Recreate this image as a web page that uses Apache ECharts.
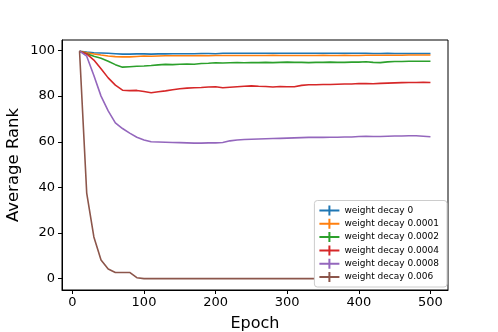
<!DOCTYPE html>
<html>
<head>
<meta charset="utf-8">
<script src="https://cdn.jsdelivr.net/npm/echarts@6/dist/echarts.min.js"></script>
<style>
  html, body { margin: 0; padding: 0; background: #fff; }
  #chart { width: 498px; height: 332px; }
</style>
</head>
<body>
<div id="chart"></div>
<script>
// epochs 10..500 step 10
var epochs = [10, 20, 30, 40, 50, 60, 70, 80, 90, 100,
	110, 120, 130, 140, 150, 160, 170, 180, 190, 200,
	210, 220, 230, 240, 250, 260, 270, 280, 290, 300,
	310, 320, 330, 340, 350, 360, 370, 380, 390, 400,
	410, 420, 430, 440, 450, 460, 470, 480, 490, 500];

var wd0 = [99.7, 99.3, 99.0, 98.9, 98.8, 98.6, 98.4, 98.4, 98.5, 98.5,
	98.4, 98.5, 98.5, 98.6, 98.6, 98.6, 98.6, 98.7, 98.7, 98.6,
	98.8, 98.8, 98.8, 98.8, 98.8, 98.8, 98.8, 98.8, 98.8, 98.8,
	98.8, 98.8, 98.8, 98.8, 98.8, 98.8, 98.8, 98.8, 98.8, 98.8,
	98.8, 98.7, 98.7, 98.8, 98.7, 98.7, 98.7, 98.7, 98.7, 98.7];

var wd0001 = [99.7, 99.0, 98.5, 98.0, 97.6, 97.3, 97.2, 97.2, 97.4, 97.6,
	97.5, 97.6, 97.7, 97.7, 97.7, 97.7, 97.7, 97.8, 97.7, 97.8,
	97.8, 97.8, 97.8, 97.8, 97.8, 97.8, 97.8, 97.9, 97.8, 97.8,
	97.8, 97.8, 97.8, 97.8, 97.9, 97.8, 97.8, 97.9, 97.8, 97.8,
	97.9, 97.9, 97.9, 97.9, 97.9, 97.9, 98.0, 98.0, 98.0, 98.0];

var wd0002 = [99.7, 98.6, 97.5, 96.6, 95.3, 93.8, 92.7, 92.9, 93.1, 93.2,
	93.4, 93.7, 93.9, 93.8, 94.0, 94.1, 94.0, 94.3, 94.4, 94.6,
	94.5, 94.6, 94.7, 94.6, 94.7, 94.7, 94.8, 94.7, 94.8, 94.9,
	94.8, 94.8, 94.7, 94.8, 94.8, 94.9, 94.8, 94.8, 94.9, 94.9,
	95.1, 94.8, 94.7, 95.0, 95.2, 95.2, 95.3, 95.3, 95.3, 95.3];

var wd0004 = [99.7, 98.5, 95.8, 92.0, 88.0, 84.8, 82.6, 82.4, 82.5, 82.0,
	81.5, 81.9, 82.3, 82.8, 83.2, 83.5, 83.7, 83.8, 84.0, 84.1,
	83.7, 83.9, 84.1, 84.3, 84.5, 84.3, 84.2, 84.0, 84.2, 84.1,
	84.1, 84.7, 85.0, 85.0, 85.1, 85.1, 85.2, 85.3, 85.3, 85.5,
	85.5, 85.4, 85.6, 85.7, 85.8, 85.9, 86.0, 86.0, 86.1, 86.0];

var wd0008 = [99.7, 97.5, 89.0, 80.0, 73.5, 68.3, 65.8, 63.8, 62.0, 60.8,
	60.0, 59.9, 59.8, 59.7, 59.6, 59.5, 59.4, 59.4, 59.5, 59.5,
	59.7, 60.4, 60.8, 61.0, 61.1, 61.2, 61.3, 61.4, 61.5, 61.6,
	61.7, 61.8, 61.9, 61.9, 61.9, 62.0, 62.0, 62.1, 62.1, 62.3,
	62.4, 62.3, 62.3, 62.4, 62.5, 62.5, 62.6, 62.6, 62.4, 62.2];

var wd006 = [99.7, 37.5, 18.3, 8.2, 4.2, 2.7, 2.7, 2.7, 0.4, 0,
	0, 0, 0, 0, 0, 0, 0, 0, 0, 0,
	0, 0, 0, 0, 0, 0, 0, 0, 0, 0,
	0, 0, 0, 0, 0, 0, 0, 0, 0, 0,
	0, 0, 0, 0, 0, 0, 0, 0, 0, 0];

var seriesNames = ['weight decay 0', 'weight decay 0.0001', 'weight decay 0.0002',
	'weight decay 0.0004', 'weight decay 0.0008', 'weight decay 0.006'];
var seriesData = [wd0, wd0001, wd0002, wd0004, wd0008, wd006];
var colors = ['#1f77b4', '#ff7f0e', '#2ca02c', '#d62728', '#9467bd', '#8c564b'];

var xTicks = [0, 100, 200, 300, 400, 500];
var yTicks = [0, 20, 40, 60, 80, 100];

var font = 'DejaVu Sans';
// plus-shaped legend marker (errorbar look)
var plusIcon = 'path://M0,4H9V0H11V4H20V6H11V10H9V6H0Z';

function pairs(ys) {
	var out = [];
	for (var i = 0; i < epochs.length; i++) {
		out.push([epochs[i], ys[i]]);
	}
	return out;
}

var series = [];
for (var i = 0; i < seriesNames.length; i++) {
	series.push({
		name : seriesNames[i],
		type : 'line',
		data : pairs(seriesData[i]),
		showSymbol : false,
		symbol : 'none',
		lineStyle : { width : 1.6, color : colors[i] },
		itemStyle : { color : colors[i] },
		animation : false
	});
}

var myChart = echarts.init(document.getElementById('chart'), null, { renderer : 'canvas' });
var option = {
	backgroundColor : '#fff',
	animation : false,
	grid : {
		left : 62, right : 50, top : 40, bottom : 42,
		outerBoundsMode : 'none',
		containLabel : false,
		show : true,
		borderColor : '#000',
		borderWidth : 1,
		backgroundColor : 'transparent'
	},
	legend : {
		orient : 'vertical',
		right : 51,
		bottom : 45,
		icon : plusIcon,
		itemWidth : 20,
		itemHeight : 10,
		itemGap : 3.3,
		padding : [5, 8, 5, 5],
		backgroundColor : '#fff',
		borderColor : '#ccc',
		borderWidth : 1,
		borderRadius : 3,
		textStyle : { fontFamily : font, fontSize : 9, color : '#000' },
		data : seriesNames
	},
	xAxis : {
		type : 'value',
		min : -14.5,
		max : 524.5,
		name : 'Epoch',
		nameLocation : 'middle',
		nameGap : 26,
		nameMoveOverlap : false,
		nameTextStyle : { fontFamily : font, fontSize : 16, color : '#000', verticalAlign : 'top' },
		axisLine : { show : true, onZero : false, lineStyle : { color : '#000', width : 1 } },
		axisTick : { show : true, inside : false, length : 4, customValues : xTicks, lineStyle : { color : '#000' } },
		axisLabel : { customValues : xTicks, fontFamily : font, fontSize : 13, color : '#000', margin : 6 },
		splitLine : { show : false }
	},
	yAxis : {
		type : 'value',
		min : -4.98,
		max : 104.6,
		name : 'Average Rank',
		nameLocation : 'middle',
		nameGap : 40,
		nameMoveOverlap : false,
		nameTextStyle : { fontFamily : font, fontSize : 16.5, color : '#000' },
		axisLine : { show : true, onZero : false, lineStyle : { color : '#000', width : 1 } },
		axisTick : { show : true, inside : false, length : 4, customValues : yTicks, lineStyle : { color : '#000' } },
		axisLabel : { customValues : yTicks, fontFamily : font, fontSize : 13, color : '#000', margin : 7 },
		splitLine : { show : false }
	},
	series : series
};
myChart.setOption(option);
</script>
</body>
</html>
